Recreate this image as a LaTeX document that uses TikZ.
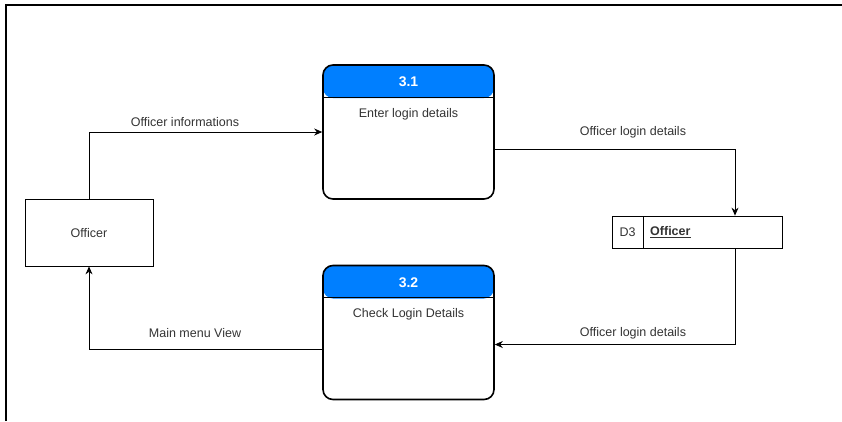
\documentclass[tikz,border=0pt]{standalone}
\usepackage{fontspec}
\setmainfont{Liberation Sans}
\usetikzlibrary{arrows.meta,calc}
\definecolor{hdrblue}{HTML}{007FFF}
\definecolor{txtgray}{HTML}{333333}
\tikzset{
  procbox/.style={draw, line width=1.6pt, rounded corners=10pt, minimum width=171pt,
    minimum height=134pt, inner sep=0pt,
    path picture={\fill[hdrblue] (path picture bounding box.north west) rectangle
      ([yshift=-33pt]path picture bounding box.north east);}},
  entity/.style={draw, line width=0.8pt, minimum width=128pt, minimum height=67pt, inner sep=0pt},
  storecell/.style={draw, line width=0.8pt, minimum height=32pt, inner sep=0pt},
  lbl/.style={font=\fontsize{12.5}{14}\selectfont, text=txtgray, inner sep=1pt},
  hdrtext/.style={font=\fontsize{14}{16}\selectfont\bfseries, text=white},
  flow/.style={draw, line width=0.8pt, -{Stealth[length=8pt,width=7pt]}},
}
\begin{document}
\begin{tikzpicture}[x=1pt,y=-1pt]
\useasboundingbox (0,0) rectangle (842,421);
% outer frame edges
\draw[line width=1.5pt] (6,421) -- (6,5) -- (842,5);

% processes
\node[procbox] (p1) at (408.5,132) {};
\draw[line width=1.2pt] ([yshift=-33pt]p1.north west) -- ([yshift=-33pt]p1.north east);
\node[hdrtext] (p1num) at (408.5,82) {3.1};
\node[lbl] (p1txt) at (408.5,114) {Enter login details};

\node[procbox] (p2) at (408.5,332.5) {};
\draw[line width=1.2pt] ([yshift=-33pt]p2.north west) -- ([yshift=-33pt]p2.north east);
\node[hdrtext] (p2num) at (408.5,283) {3.2};
\node[lbl] (p2txt) at (408.5,314) {Check Login Details};

% external entity
\node[entity] (off) at (89,232.5) {};
\node[lbl] (offtxt) at (89,233) {Officer};

% data store
\node[storecell, minimum width=31pt] (dsid) at (627.5,232) {};
\node[storecell, minimum width=139pt] (dsname) at (712.5,232) {};
\node[lbl] (dsidtxt) at (627.5,232) {D3};
\node[lbl, font=\fontsize{12.5}{14}\selectfont\bfseries, anchor=west] (dsnametxt) at (649,232) {\underline{Officer}};

% data flows
\coordinate (a1) at ([yshift=-17pt]p1.east);
\coordinate (a2) at ([xshift=22.5pt]dsname.north);
\coordinate (b1) at ([xshift=22.5pt]dsname.south);
\coordinate (b2) at ([yshift=-12pt]p2.east);
\coordinate (c1) at ([yshift=-17pt]p2.west);

\draw[flow] (off.north) |- (p1.west);
\draw[flow] (a1) -| (a2);
\draw[flow] (b1) |- (b2);
\draw[flow] (c1) -| (off.south);

\node[lbl] (l1) at (185,122) {Officer informations};
\node[lbl] (l2) at (633,132) {Officer login details};
\node[lbl] (l3) at (633,333) {Officer login details};
\node[lbl] (l4) at (195,333) {Main menu View};
\end{tikzpicture}
\end{document}
